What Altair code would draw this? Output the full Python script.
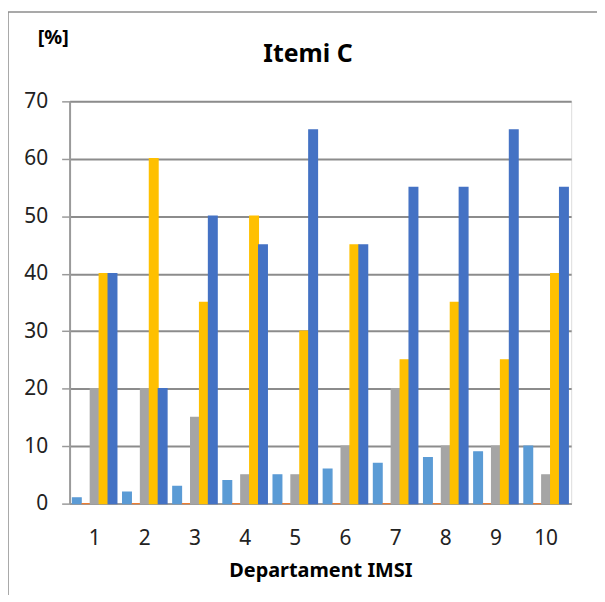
import altair as alt
import pandas as pd

departments = [1, 2, 3, 4, 5, 6, 7, 8, 9, 10]
series_names = ["S1", "S2", "S3", "S4", "S5"]
s1 = [1, 2, 3, 4, 5, 6, 7, 8, 9, 10]
s2 = [0, 0, 0, 0, 0, 0, 0, 0, 0, 0]
s3 = [20, 20, 15, 5, 5, 10, 20, 10, 10, 5]
s4 = [40, 60, 35, 50, 30, 45, 25, 35, 25, 40]
s5 = [40, 20, 50, 45, 65, 45, 55, 55, 65, 55]
colors = ["#5B9BD5", "#ED7D31", "#A5A5A5", "#FFC000", "#4472C4"]
title_text = "Itemi C"
unit_text = "[%]"
x_title = "Departament IMSI"

rows = []
for name, vals in zip(series_names, [s1, s2, s3, s4, s5]):
    for d, v in zip(departments, vals):
        rows.append({"Departament": d, "Seria": name, "Valoare": v})
df = pd.DataFrame(rows)

FONT = "Noto Sans"

bars = alt.Chart(df).mark_bar(strokeWidth=1.5).encode(
    x=alt.X("Departament:O", title=x_title,
            scale=alt.Scale(paddingInner=0.12, paddingOuter=0.06),
            axis=alt.Axis(labelAngle=0, labelFontSize=21, labelFont=FONT,
                          labelColor="#222", labelPadding=24, ticks=False,
                          domainColor="#9a9a9a", domainWidth=2,
                          titleFontSize=20, titleFont=FONT, titleFontWeight="bold",
                          titlePadding=12, titleColor="#000")),
    xOffset=alt.XOffset("Seria:N", sort=series_names,
                        scale=alt.Scale(paddingInner=0.05)),
    y=alt.Y("Valoare:Q", scale=alt.Scale(domain=[0, 70]),
            axis=alt.Axis(values=[0, 10, 20, 30, 40, 50, 60, 70], title=None,
                          labelFontSize=21, labelFont=FONT, labelColor="#222",
                          labelPadding=14, tickSize=8, tickColor="#9a9a9a",
                          tickWidth=1.5, domainColor="#9a9a9a", domainWidth=2,
                          gridColor="#8c8c8c", gridWidth=2)),
    color=alt.Color("Seria:N", sort=series_names,
                    scale=alt.Scale(domain=series_names, range=colors), legend=None),
    stroke=alt.Stroke("Seria:N", sort=series_names,
                      scale=alt.Scale(domain=series_names, range=colors), legend=None),
)

one = pd.DataFrame({"a": [0]})
border_top = alt.Chart(one).mark_rule(stroke="#8c8c8c", strokeWidth=1.5, clip=False).encode(
    x=alt.value(-62), x2=alt.value(560), y=alt.value(-90))
border_left = alt.Chart(one).mark_rule(stroke="#8c8c8c", strokeWidth=1.5, clip=False).encode(
    x=alt.value(-62), y=alt.value(-90), y2=alt.value(510))

title = alt.Chart(pd.DataFrame({"t": [title_text]})).mark_text(
    font=FONT, fontSize=25, fontWeight="bold", color="#000",
    align="center", baseline="alphabetic", clip=False
).encode(text="t:N", x=alt.value(240), y=alt.value(-40))

unit = alt.Chart(pd.DataFrame({"t": [unit_text]})).mark_text(
    font=FONT, fontSize=20, fontWeight="bold", color="#000",
    align="left", baseline="alphabetic", clip=False
).encode(text="t:N", x=alt.value(-32), y=alt.value(-58))

chart = alt.layer(border_top, border_left, bars, title, unit).properties(
    width=505, height=405,
    autosize=alt.AutoSizeParams(type="none"),
    padding={"left": 62, "top": 92, "right": 26, "bottom": 90},
).configure_view(stroke=None).configure(background="white")

chart.save("out.html", embed_options={"renderer": "svg", "actions": False})
